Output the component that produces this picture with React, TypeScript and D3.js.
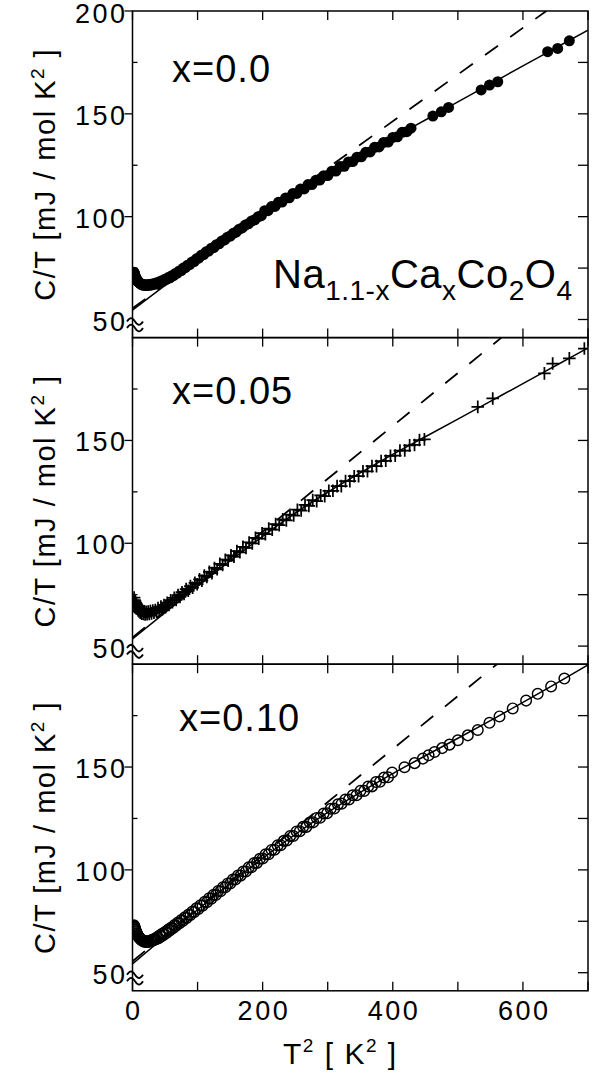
import React from "react";
import * as d3 from "d3";

// ---------- data (T^2 [K^2], C/T [mJ/mol K^2]) ----------
const DATA_X000: [number, number][] = [
  [2.3,73.0],[2.6,72.4],[2.9,72.3],[3.3,71.6],[3.7,71.5],[4.2,70.8],[4.7,70.6],[5.3,70.0],[5.9,69.9],[6.6,69.2],
  [7.3,69.1],[8.1,68.5],[9.0,68.4],[9.9,67.9],[10.9,67.8],[12.0,67.3],[13.1,67.4],[14.3,66.9],[15.6,67.1],[16.9,66.6],
  [18.3,66.9],[19.8,66.5],[21.3,66.9],[22.9,66.5],[24.6,67.0],[26.3,66.6],[28.1,67.2],[30.0,66.8],[31.9,67.4],[33.9,67.1],
  [36.0,67.8],[38.1,67.4],[40.3,68.2],[42.6,68.0],[44.9,68.9],[47.3,68.7],[49.8,69.6],[52.3,69.5],[54.9,70.4],[57.6,70.3],
  [60.3,71.3],[63.1,71.3],[66.0,72.4],[68.9,72.5],[71.9,73.6],[75.0,73.8],[78.1,75.0],[81.3,75.2],[84.6,76.4],[87.9,76.7],
  [91.3,77.9],[94.8,78.2],[98.3,79.5],[101.9,79.9],[105.6,81.2],[109.3,81.6],[113.1,82.9],[117.0,83.3],[120.9,84.6],[124.9,85.0],
  [129.0,86.4],[133.1,86.8],[137.3,88.2],[141.6,88.7],[145.9,90.0],[150.3,90.6],[154.8,91.9],[159.3,92.5],[163.9,93.9],[168.6,94.5],
  [173.3,95.9],[178.1,96.5],[183.0,97.9],[187.9,98.5],[192.9,99.9],[198.0,100.5],[203.1,102.9],[208.3,102.9],[213.6,104.9],[218.9,105.0],
  [224.3,107.0],[229.8,107.1],[235.3,109.1],[240.9,109.2],[246.6,111.3],[252.3,111.3],[258.1,113.4],[263.9,113.5],[269.8,115.6],[275.7,115.6],
  [281.7,117.7],[287.8,117.8],[293.9,119.9],[300.1,120.0],[306.3,122.1],[312.6,122.2],[319.0,124.4],[325.4,124.5],[331.9,126.6],[338.4,126.8],
  [345.0,128.9],[351.7,129.1],[358.4,131.3],[365.2,131.5],[372.0,133.7],[378.9,133.9],[385.9,136.1],[392.9,136.3],[400.0,138.5],[407.1,138.8],
  [414.3,141.0],[421.6,141.3],[428.0,143.0],
  [461.6,148.9],[474.5,151.0],[485.7,153.1],[535.8,161.6],[548.6,164.0],[561.3,165.6],[638.0,180.2],[653.4,181.8],[671.3,185.5],
];
const FIT_X000: [number, number][] = [
  [0,54.6],[50,66.6],[100,78.4],[150,90.2],[200,101.2],[250,111.3],[300,120.6],[350,129.5],[400,138.3],[450,147.0],
  [500,155.8],[550,164.5],[600,173.3],[650,182.0],[700,190.7],
];
const DASH_X000: [number, number][] = [[0,55.5],[636,200]];

const DATA_X005: [number, number][] = [
  [2.2,71.0],[2.5,73.6],[2.8,70.2],[3.2,72.4],[3.6,69.6],[4.0,71.8],[4.5,69.9],[5.0,71.0],[5.6,68.6],[6.2,70.4],
  [6.9,68.2],[7.6,69.5],[8.4,67.4],[9.2,68.9],[10.1,66.8],[11.0,68.2],[12.0,66.3],[13.1,67.7],[14.2,65.8],[15.4,67.2],
  [16.7,65.6],[18.0,66.9],[19.4,65.4],[20.9,66.7],[22.4,65.5],[24.0,66.8],[25.7,65.6],[27.4,67.0],[29.2,65.9],[31.1,67.3],
  [33.0,66.3],[35.0,67.5],[37.1,66.6],[39.2,68.5],[41.4,67.3],[43.7,69.2],[46.0,68.0],[48.4,70.0],[50.9,68.9],[53.4,71.1],
  [56.0,70.0],[58.7,72.3],[61.4,71.3],[64.2,73.5],[67.1,72.5],[70.0,74.8],[73.0,73.9],[76.1,76.2],[79.2,75.3],[82.4,77.7],
  [85.7,76.9],[89.0,79.2],[92.4,78.4],[95.9,80.8],[99.4,80.1],[103.0,82.5],[106.7,81.8],[110.4,84.3],[114.2,83.6],[118.1,86.1],
  [122.0,85.5],[126.0,88.0],[130.1,87.4],[134.2,90.0],[138.4,89.4],[142.7,92.0],[147.0,91.5],[151.4,94.1],[155.9,93.5],[160.4,96.2],
  [165.0,95.6],[169.7,98.3],[174.4,97.7],[179.2,100.4],[184.1,99.9],[189.0,102.6],[194.0,102.2],[199.1,104.9],[204.2,104.4],[209.4,107.1],
  [214.7,106.6],[220.0,109.3],[225.4,108.8],[230.9,111.6],[236.4,111.1],[242.0,113.9],[247.7,113.5],[253.4,116.3],[259.2,115.9],[265.1,118.7],
  [271.0,118.2],[277.0,121.0],[283.1,120.5],[289.2,123.3],[295.4,122.9],[301.7,125.5],[308.0,125.5],[314.4,127.8],[320.9,127.8],[327.4,130.2],
  [334.0,130.2],[340.7,132.6],[347.4,132.6],[354.2,135.0],[361.1,135.0],[368.0,137.5],[375.0,137.5],[382.1,140.0],[389.2,140.1],[396.4,142.5],
  [403.7,142.6],[411.0,145.1],[418.4,145.1],[425.9,147.6],[433.4,147.8],[441.0,150.2],[448.6,150.5],
  [530.6,166.3],[553.6,170.4],[633.0,182.6],[645.7,187.4],[671.3,189.9],[694.4,194.7],
];
const FIT_X005: [number, number][] = [
  [0,53.5],[50,66.3],[100,79.0],[150,91.4],[200,103.3],[250,114.6],[300,124.8],[350,134.2],[400,143.2],[450,151.8],
  [500,160.4],[550,169.0],[600,177.6],[650,186.3],[700,195.0],
];
const DASH_X005: [number, number][] = [[0,54.2],[567,200]];

const DATA_X010: [number, number][] = [
  [2.3,73.0],[2.6,72.6],[2.9,72.4],[3.3,71.9],[3.7,71.6],[4.1,71.0],[4.6,70.7],[5.1,70.1],[5.7,69.8],[6.3,69.2],
  [7.0,68.9],[7.7,68.3],[8.5,68.0],[9.3,67.5],[10.2,67.2],[11.1,66.7],[12.1,66.5],[13.1,66.0],[14.2,65.9],[15.3,65.5],
  [16.5,65.5],[17.7,65.1],[19.0,65.3],[20.3,64.9],[21.7,65.2],[23.1,64.9],[24.6,65.4],[26.1,65.1],[27.7,65.7],[29.3,65.4],
  [31.0,66.1],[32.7,65.8],[34.5,66.5],[36.3,66.3],[38.2,67.4],[40.1,66.8],[42.1,68.2],[44.1,67.6],[46.2,69.0],[48.3,68.5],
  [50.5,69.9],[52.7,69.4],[55.0,71.0],[57.3,70.5],[59.7,72.0],[62.1,71.6],[64.6,73.2],[67.1,72.8],[69.7,74.4],[72.3,74.0],
  [75.0,75.6],[77.7,75.3],[80.5,76.9],[83.3,76.6],[86.2,78.3],[89.1,78.0],[92.1,79.8],[95.1,79.5],[98.2,81.3],[101.3,81.0],
  [104.5,82.8],[107.7,82.6],[111.0,84.5],[114.3,84.3],[117.7,86.2],[121.1,86.0],[124.6,87.9],[128.1,87.8],[131.7,89.7],[135.3,89.6],
  [139.0,91.5],[142.7,91.5],[146.5,93.4],[150.3,93.4],[154.2,95.3],[158.1,95.3],[162.1,97.3],[166.1,97.2],[170.2,99.2],[174.3,99.2],
  [178.5,101.2],[182.7,101.3],[187.0,103.3],[191.3,103.4],[195.7,105.4],[200.1,105.5],[204.6,107.6],[209.1,107.6],[213.7,109.7],[218.3,109.8],
  [223.0,111.9],[227.7,112.0],[232.5,114.1],[237.3,114.3],[242.2,116.4],[247.1,116.5],[252.1,118.7],[257.1,118.8],[262.2,120.9],[267.3,120.9],
  [272.5,123.0],[277.7,123.1],[283.0,125.2],[288.3,125.3],[293.7,127.4],[299.1,127.5],[304.6,129.7],[310.1,129.8],[315.7,131.9],[321.3,132.2],
  [327.0,134.2],[332.7,134.2],[338.5,136.3],[344.3,136.3],[350.2,138.4],[356.1,138.4],[362.1,140.5],[368.1,140.6],[374.2,142.7],[380.3,142.8],
  [386.5,144.9],[392.7,145.0],[399.0,147.3],
  [418.0,149.9],[433.5,151.9],[446.3,154.1],[455.0,155.7],[464.2,157.3],[476.0,159.2],[487.2,160.9],[500.0,163.0],[515.3,165.4],[530.6,168.0],
  [548.6,171.5],[564.0,174.6],[584.3,178.5],[604.9,182.3],[622.7,185.6],[643.3,189.2],[663.7,193.0],
];
const FIT_X010: [number, number][] = [
  [0,54.3],[50,67.6],[100,80.6],[150,93.3],[200,105.6],[250,117.2],[300,127.9],[350,137.7],[400,146.8],[450,155.5],
  [500,164.0],[550,172.6],[600,181.4],[650,190.4],[700,199.7],
];
const DASH_X010: [number, number][] = [[0,55.6],[560,200]];

const PANEL_LABELS = ["x=0.0", "x=0.05", "x=0.10"];
const X_TICKS = [0, 100, 200, 300, 400, 500, 600, 700];
const X_TICK_LABELS = [0, 200, 400, 600];
const Y_MINOR = [75, 125, 175];
const Y_MAJOR = [100, 150, 200];
const Y_RIGHT_TICKS = [50, 75, 100, 125, 150, 175];

// ---------- layout ----------
const W = 600;
const H = 1076;
const LEFT = 132.5;
const RIGHT = 588;
const TOP = 11;
const PANEL_H = 326.6;
const Y_DOMAIN: [number, number] = [41.2, 200];
const FONT = "'Liberation Sans', Arial, Helvetica, sans-serif";
const TICK_FS = 27;
const TICK_LS = 2.5;

type Kind = "filled" | "cross" | "open";
const panels: { label: string; data: [number, number][]; fit: [number, number][]; dash: [number, number][]; kind: Kind; lx: number; ly: number }[] = [
  { label: PANEL_LABELS[0], data: DATA_X000, fit: FIT_X000, dash: DASH_X000, kind: "filled", lx: 172, ly: 71 },
  { label: PANEL_LABELS[1], data: DATA_X005, fit: FIT_X005, dash: DASH_X005, kind: "cross", lx: 172, ly: 66 },
  { label: PANEL_LABELS[2], data: DATA_X010, fit: FIT_X010, dash: DASH_X010, kind: "open", lx: 179, ly: 67 },
];

const x = d3.scaleLinear().domain([0, 700]).range([LEFT, RIGHT]);

function Marker({ kind, cx, cy }: { kind: Kind; cx: number; cy: number }) {
  if (kind === "filled") return <circle cx={cx} cy={cy} r={5.5} fill="#000" />;
  if (kind === "open") return <circle cx={cx} cy={cy} r={5.3} fill="none" stroke="#000" strokeWidth={1.45} />;
  const a = 6.3;
  return (
    <path d={`M${cx - a},${cy}H${cx + a}M${cx},${cy - a}V${cy + a}`} stroke="#000" strokeWidth={1.75} fill="none" />
  );
}

function Panel({ idx }: { idx: number }) {
  const p = panels[idx];
  const top = TOP + idx * PANEL_H;
  const bottom = top + PANEL_H;
  const y = d3.scaleLinear().domain(Y_DOMAIN).range([bottom, top]);
  const line = d3
    .line<[number, number]>()
    .x((d) => x(d[0]))
    .y((d) => y(d[1]))
    .curve(d3.curveMonotoneX);
  const straight = d3
    .line<[number, number]>()
    .x((d) => x(d[0]))
    .y((d) => y(d[1]));
  const clipId = `clip${idx}`;
  const midY = (top + bottom) / 2;
  const y50 = y(50);
  const wave = (yy: number) => `M127,${yy} C130,${yy - 4.5} 132,${yy - 4.5} 135,${yy} S140,${yy + 4.5} 143,${yy}`;
  return (
    <g>
      <defs>
        <clipPath id={clipId}>
          <rect x={LEFT} y={top} width={RIGHT - LEFT} height={PANEL_H} />
        </clipPath>
      </defs>
      <g clipPath={`url(#${clipId})`}>
        <path d={straight(p.dash) || ""} fill="none" stroke="#000" strokeWidth={1.8} strokeDasharray="16 15" />
        <path d={line(p.fit) || ""} fill="none" stroke="#000" strokeWidth={1.5} />
        {p.data.map((d, i) => (
          <Marker key={i} kind={p.kind} cx={x(d[0])} cy={y(d[1])} />
        ))}
      </g>
      <rect x={LEFT} y={top} width={RIGHT - LEFT} height={PANEL_H} fill="none" stroke="#000" strokeWidth={1.5} />
      {X_TICKS.map((t) => (
        <g key={t}>
          <line x1={x(t)} x2={x(t)} y1={top} y2={top + 9} stroke="#000" strokeWidth={1.3} />
          <line x1={x(t)} x2={x(t)} y1={bottom} y2={bottom - 9} stroke="#000" strokeWidth={1.3} />
        </g>
      ))}
      {Y_RIGHT_TICKS.map((t) => (
        <line key={t} x1={RIGHT} x2={RIGHT - 10} y1={y(t)} y2={y(t)} stroke="#000" strokeWidth={1.3} />
      ))}
      {Y_MINOR.map((t) => (
        <line key={t} x1={LEFT} x2={LEFT + 5} y1={y(t)} y2={y(t)} stroke="#000" strokeWidth={1.3} />
      ))}
      {Y_MAJOR.filter((t) => idx === 0 || t < 200).map((t) => (
        <line key={t} x1={LEFT} x2={LEFT - 8} y1={y(t)} y2={y(t)} stroke="#000" strokeWidth={1.3} />
      ))}
      {Y_MAJOR.filter((t) => idx === 0 || t < 200).map((t) => (
        <text key={t} x={125 + TICK_LS} y={y(t)} dy={t === 200 ? 12.3 : 11} textAnchor="end" fontSize={TICK_FS} letterSpacing={TICK_LS} fontFamily={FONT}>
          {t}
        </text>
      ))}
      <text x={125 + TICK_LS} y={y50} dy={11.5} textAnchor="end" fontSize={TICK_FS} letterSpacing={TICK_LS} fontFamily={FONT}>
        50
      </text>
      <path d={wave(y50 + 2)} fill="none" stroke="#000" strokeWidth={1.8} />
      <path d={wave(y50 + 8.5)} fill="none" stroke="#000" strokeWidth={1.8} />
      <text
        transform={`translate(55,${midY}) rotate(-90)`}
        textAnchor="middle"
        fontSize={29}
        letterSpacing={1.5}
        fontFamily={FONT}
      >
        C/T [mJ / mol K
        <tspan dy={-11} fontSize={19}>2</tspan>
        <tspan dy={11}> ]</tspan>
      </text>
      <text x={p.lx} y={top + p.ly} fontSize={38} letterSpacing={1} fontFamily={FONT}>
        {p.label}
      </text>
    </g>
  );
}

export default function App() {
  const bottom = TOP + 3 * PANEL_H;
  return (
    <svg
      width={W}
      height={H}
      viewBox={`0 0 ${W} ${H}`}
      style={{ position: "absolute", left: 0, top: 0, background: "#fff", display: "block" }}
    >
      <rect x={0} y={0} width={W} height={H} fill="#fff" />
      {[0, 1, 2].map((i) => (
        <Panel key={i} idx={i} />
      ))}
      <text x={273} y={288} fontSize={40} letterSpacing={0.5} fontFamily={FONT}>
        Na
        <tspan dy={12} fontSize={28}>1.1-x</tspan>
        <tspan dy={-12}>Ca</tspan>
        <tspan dy={12} fontSize={28}>x</tspan>
        <tspan dy={-12}>Co</tspan>
        <tspan dy={12} fontSize={28}>2</tspan>
        <tspan dy={-12}>O</tspan>
        <tspan dy={12} fontSize={28}>4</tspan>
      </text>
      {X_TICK_LABELS.map((t) => (
        <text key={t} x={x(t) + TICK_LS / 2} y={bottom + 29} textAnchor="middle" fontSize={TICK_FS} letterSpacing={TICK_LS} fontFamily={FONT}>
          {t}
        </text>
      ))}
      <text x={283} y={1064} fontSize={30} letterSpacing={1.5} fontFamily={FONT}>
        T<tspan dy={-12} fontSize={19}>2</tspan>
        <tspan dy={12}>{"  [ K"}</tspan>
        <tspan dy={-12} fontSize={19}>2</tspan>
        <tspan dy={12}> ]</tspan>
      </text>
    </svg>
  );
}
